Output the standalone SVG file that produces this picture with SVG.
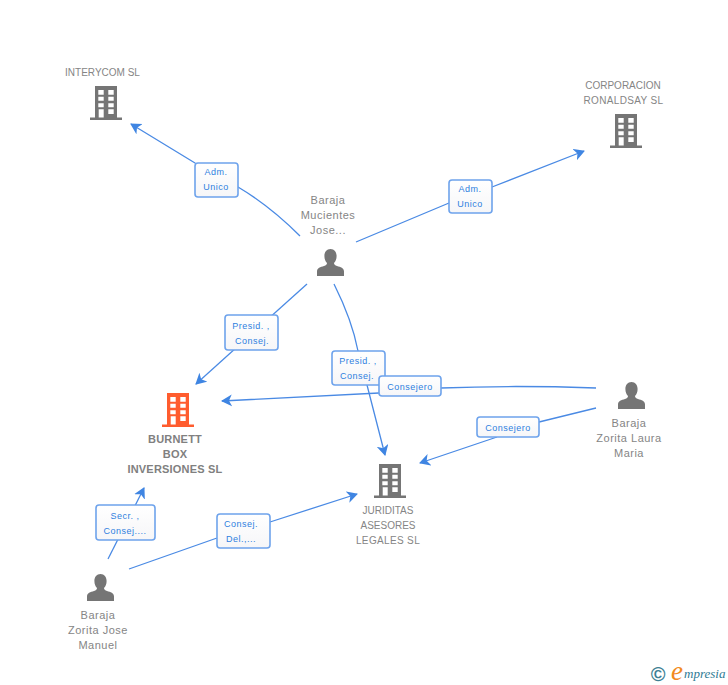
<svg xmlns="http://www.w3.org/2000/svg" width="728" height="685" viewBox="0 0 728 685">
<style>
.n{font-family:"Liberation Sans",Arial,sans-serif;font-size:10px;fill:#858585;text-anchor:middle}
.w{letter-spacing:.35px}
.p{font-size:11px;letter-spacing:.5px}
.b{font-family:"Liberation Sans",Arial,sans-serif;font-size:11px;font-weight:bold;letter-spacing:.2px;fill:#808080;text-anchor:middle}
.l{font-family:"Liberation Sans",Arial,sans-serif;font-size:9px;letter-spacing:.5px;fill:#2f7fe0;text-anchor:middle}
.c{fill:none;stroke:#4a8ae4;stroke-width:1.3}
.r{fill:url(#g);stroke:#6ea3ec;stroke-width:1.6}
</style>
<defs>
<linearGradient id="g" x1="0" y1="0" x2="0" y2="1"><stop offset="0" stop-color="#fff"/><stop offset="1" stop-color="#f6f6f8"/></linearGradient>
<marker id="a" markerUnits="userSpaceOnUse" markerWidth="14" markerHeight="14" refX="10" refY="6" orient="auto"><path d="M0 0L11 6L0 12L3 6Z" fill="#3f85e2"/></marker>
<symbol id="bld" width="32" height="34" overflow="visible"><path d="M5 0H27V31.5H32V34H0V31.5H5ZM8.3 4V8.7H13.7V4ZM18.3 4V8.7H23.7V4ZM8.3 10.7V14.7H13.7V10.7ZM18.3 10.7V14.7H23.7V10.7ZM8.3 17.3V21.3H13.7V17.3ZM18.3 17.3V21.3H23.7V17.3ZM8.7 23.3V31.5H13.7V23.3ZM18.3 23.3V28H23.7V23.3Z" fill-rule="evenodd"/></symbol>
<symbol id="per" width="27" height="27" overflow="visible"><path d="M13.5 0C17.3 0 19.6 3 19.6 7C19.6 10 18.6 12.4 17 14C17 15.6 18 16.4 20 17C23.6 18 27 19 27 22.5V27H0V22.5C0 19 3.4 18 7 17C9 16.4 10 15.6 10 14C8.4 12.4 7.4 10 7.4 7C7.4 3 9.7 0 13.5 0Z"/></symbol>
</defs>
<g id="connectors">
<path class="c" marker-end="url(#a)" d="M300 236C280 216 260 200 238 187L195 163L131 124"/>
<path class="c" marker-end="url(#a)" d="M356 242L449 203M492 187L584 151"/>
<path class="c" marker-end="url(#a)" d="M307 284L196 384"/>
<path class="c" marker-end="url(#a)" d="M334 284C346 308 354 330 358 351L367 385L385 455"/>
<path class="c" marker-end="url(#a)" d="M596 388C540 386 490 386 441 388M379 393L222 401"/>
<path class="c" marker-end="url(#a)" d="M596 408L539 422M497 437L420 463"/>
<path class="c" marker-end="url(#a)" d="M108 559L144 488"/>
<path class="c" marker-end="url(#a)" d="M129 569L217 538M270 522L357 494"/>
</g>
<g id="n-interycom" fill="#757575"><use href="#bld" x="90" y="86"/><text class="n" x="102.5" y="76">INTERYCOM SL</text></g>
<g id="n-corporacion" fill="#757575"><use href="#bld" x="610" y="114"/><text class="n" x="623" y="89">CORPORACION</text><text class="n w" x="623.5" y="104">RONALDSAY SL</text></g>
<g id="n-burnett" fill="#ff5c2e"><use href="#bld" x="162" y="393"/><text class="b" x="175" y="443">BURNETT</text><text class="b" x="175" y="458">BOX</text><text class="b" x="175" y="473">INVERSIONES SL</text></g>
<g id="n-juriditas" fill="#757575"><use href="#bld" x="374" y="464"/><text class="n" x="388" y="514">JURIDITAS</text><text class="n" x="388" y="529">ASESORES</text><text class="n w" x="388" y="544">LEGALES SL</text></g>
<g id="n-mucientes" fill="#757575"><use href="#per" x="317" y="249"/><text class="n p" x="328" y="204">Baraja</text><text class="n p" x="328" y="219">Mucientes</text><text class="n p" x="328" y="234">Jose...</text></g>
<g id="n-laura" fill="#757575"><use href="#per" x="618" y="382"/><text class="n p" x="629" y="427">Baraja</text><text class="n p" x="629" y="442">Zorita Laura</text><text class="n p" x="629" y="457">Maria</text></g>
<g id="n-manuel" fill="#757575"><use href="#per" x="87" y="574"/><text class="n p" x="98" y="619">Baraja</text><text class="n p" x="98" y="634">Zorita Jose</text><text class="n p" x="98" y="649">Manuel</text></g>
<g id="labels">
<g><rect class="r" x="195" y="163" width="43" height="34" rx="3"/><text class="l" x="216" y="175">Adm.</text><text class="l" x="216" y="190">Unico</text></g>
<g><rect class="r" x="449" y="180" width="43" height="33" rx="3"/><text class="l" x="470" y="192">Adm.</text><text class="l" x="470" y="207">Unico</text></g>
<g><rect class="r" x="225" y="315" width="53" height="35" rx="3"/><text class="l" x="251" y="329">Presid. ,</text><text class="l" x="252" y="344">Consej.</text></g>
<g><rect class="r" x="332" y="351" width="53" height="34" rx="3"/><text class="l" x="358" y="364">Presid. ,</text><text class="l" x="357" y="379">Consej.</text></g>
<g><rect class="r" x="379" y="376" width="62" height="20" rx="3"/><text class="l" x="410" y="390">Consejero</text></g>
<g><rect class="r" x="477" y="417" width="62" height="20" rx="3"/><text class="l" x="508" y="431">Consejero</text></g>
<g><rect class="r" x="96" y="505" width="59" height="35" rx="3"/><text class="l" x="125" y="519">Secr. ,</text><text class="l" x="125" y="534">Consej....</text></g>
<g><rect class="r" x="217" y="514" width="53" height="34" rx="3"/><text class="l" x="241" y="527">Consej.</text><text class="l" x="241" y="542">Del.,...</text></g>
</g>
<g id="logo">
<text x="658" y="681" font-family="'Liberation Sans',sans-serif" font-size="20" font-weight="bold" fill="#3d7f94" text-anchor="middle">©</text>
<text x="671" y="680" font-family="'Liberation Serif',serif" font-style="italic" font-size="27" fill="#f28a1e">e</text>
<text x="684" y="678" font-family="'Liberation Serif',serif" font-style="italic" font-size="13" fill="#2f7a94">mpresia</text>
</g>
</svg>
